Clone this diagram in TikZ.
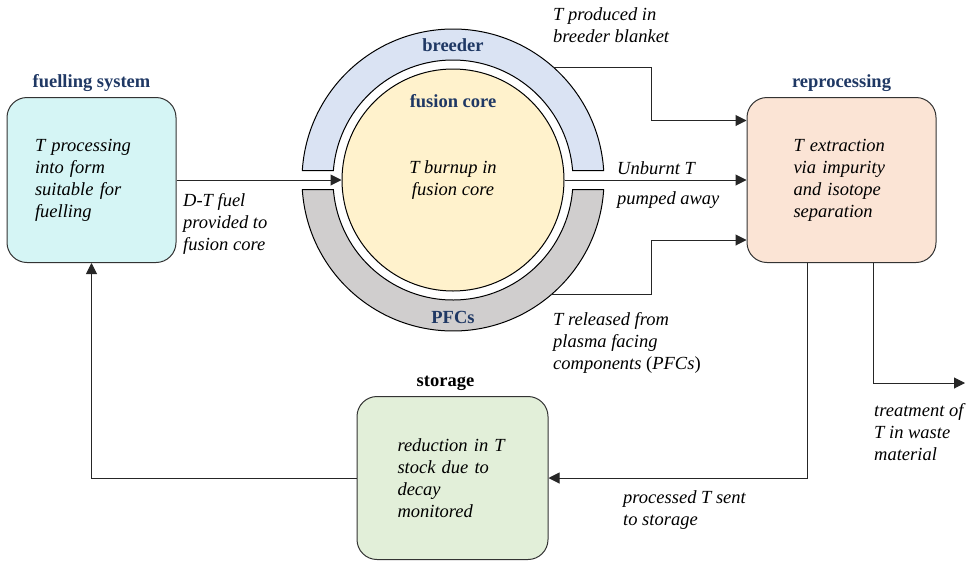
\documentclass[tikz,border=0pt]{standalone}
\usepackage{fontspec}
\setmainfont{Liberation Serif}
\usetikzlibrary{arrows.meta,positioning,calc}
\definecolor{titleblue}{HTML}{1F3864}
\definecolor{fuelfill}{HTML}{D5F5F5}
\definecolor{reprocfill}{HTML}{FBE4D5}
\definecolor{storefill}{HTML}{E2EFD9}
\definecolor{corefill}{HTML}{FFF2CC}
\definecolor{breederfill}{HTML}{DAE3F3}
\definecolor{pfcfill}{HTML}{D0CECE}
\newcommand{\figfont}{\fontsize{18.5}{22}\selectfont}
\tikzset{
  box/.style={draw=black!80, line width=1pt, rounded corners=20pt,
    font=\figfont\itshape, align=left, inner sep=0pt},
  title/.style={font=\figfont\bfseries, text=titleblue, inner sep=0pt},
  note/.style={font=\figfont\itshape, align=left, anchor=base west, inner sep=0pt},
  flow/.style={draw=black!85, line width=1pt, -{Triangle[length=11pt,width=11pt]}},
}

\begin{document}
\begin{tikzpicture}[x=1pt,y=1pt]
    \useasboundingbox (0,0) rectangle (971,-560);
    \coordinate (c) at (453,-180);
    \pgfmathsetmacro\ao{asin(9.5/151)}
    \pgfmathsetmacro\ai{asin(9.5/120)}
    % breeder and PFC rings
    \filldraw[fill=breederfill, line width=1pt] ($(c)+(\ao:151)$) arc[start angle=\ao, end angle=180-\ao, radius=151]
        -- ($(c)+({180-\ai}:120)$) arc[start angle=180-\ai, end angle=\ai, radius=120] -- cycle;
    \filldraw[fill=pfcfill, line width=1pt] ($(c)+(-\ao:151)$) arc[start angle=-\ao, end angle=-180+\ao, radius=151]
        -- ($(c)+({-180+\ai}:120)$) arc[start angle=-180+\ai, end angle=-\ai, radius=120] -- cycle;
    \node[circle, draw, line width=1pt, fill=corefill, minimum size=222pt, inner sep=0pt,
        font=\figfont\itshape, align=center] (core) at (c) {T burnup in\\fusion core};
    \node[title, anchor=base] (breeder) at (453,-51) {breeder};
    \node[title, anchor=base] (coret) at (453,-107) {fusion core};
    \node[title, anchor=base] (pfcs) at (453,-323) {PFCs};
    \coordinate (brout) at ($(c)+(48.4:151)$);
    \coordinate (pfout) at ($(c)+(-49.4:151)$);

    % boxes
    \node[box, fill=fuelfill, minimum width=169pt, minimum height=165pt, text width=113pt]
        (fuel) at (91.5,-180) {T processing\\into form\\suitable for\\fuelling};
    \node[box, fill=reprocfill, minimum width=189pt, minimum height=165pt, text width=96pt]
        (reproc) at (841.5,-180) {T extraction\\via impurity\\and isotope\\separation};
    \node[box, fill=storefill, minimum width=191pt, minimum height=163pt, text width=110pt]
        (store) at (452.5,-478) {reduction in T\\stock due to\\decay\\monitored};
    \node[title, above=5pt of fuel] (fuelt) {fuelling system};
    \node[title, above=5pt of reproc] (reproct) {reprocessing};
    \node[title, text=black, above=5pt of store, xshift=-7pt] (storet) {storage};

    % flows
    \coordinate (waste) at (965,-383);
    \draw[flow] (fuel.east) -- (core.west);
    \draw[flow] (core.east) -- (reproc.west);
    \draw[flow] (brout) -| ([xshift=-95pt,yshift=59.5pt]reproc.west) -- ([yshift=59.5pt]reproc.west);
    \draw[flow] (pfout) -| ([xshift=-95pt,yshift=-60pt]reproc.west) -- ([yshift=-60pt]reproc.west);
    \draw[flow] ([xshift=-34pt]reproc.south) |- (store.east);
    \draw[flow] ([xshift=32pt]reproc.south) |- (waste);
    \draw[flow] (store.west) -| (fuel.south);

    % labels (anchored at the last baseline)
    \node[note] (dtl) at (183,-250) {D-T fuel\\provided to\\fusion core};
    \node[note] (bbl) at (553,-42) {T produced in\\breeder blanket};
    \node[note] (unb) at (617,-174) {Unburnt T};
    \node[note] (pump) at (617,-204) {pumped away};
    \node[note] (pfl) at (553,-369) {T released from\\plasma facing\\components \textup{(}PFCs\textup{)}};
    \node[note] (pts) at (623,-525) {processed T sent\\to storage};
    \node[note] (twl) at (874,-460) {treatment of\\T in waste\\material};
\end{tikzpicture}
\end{document}
